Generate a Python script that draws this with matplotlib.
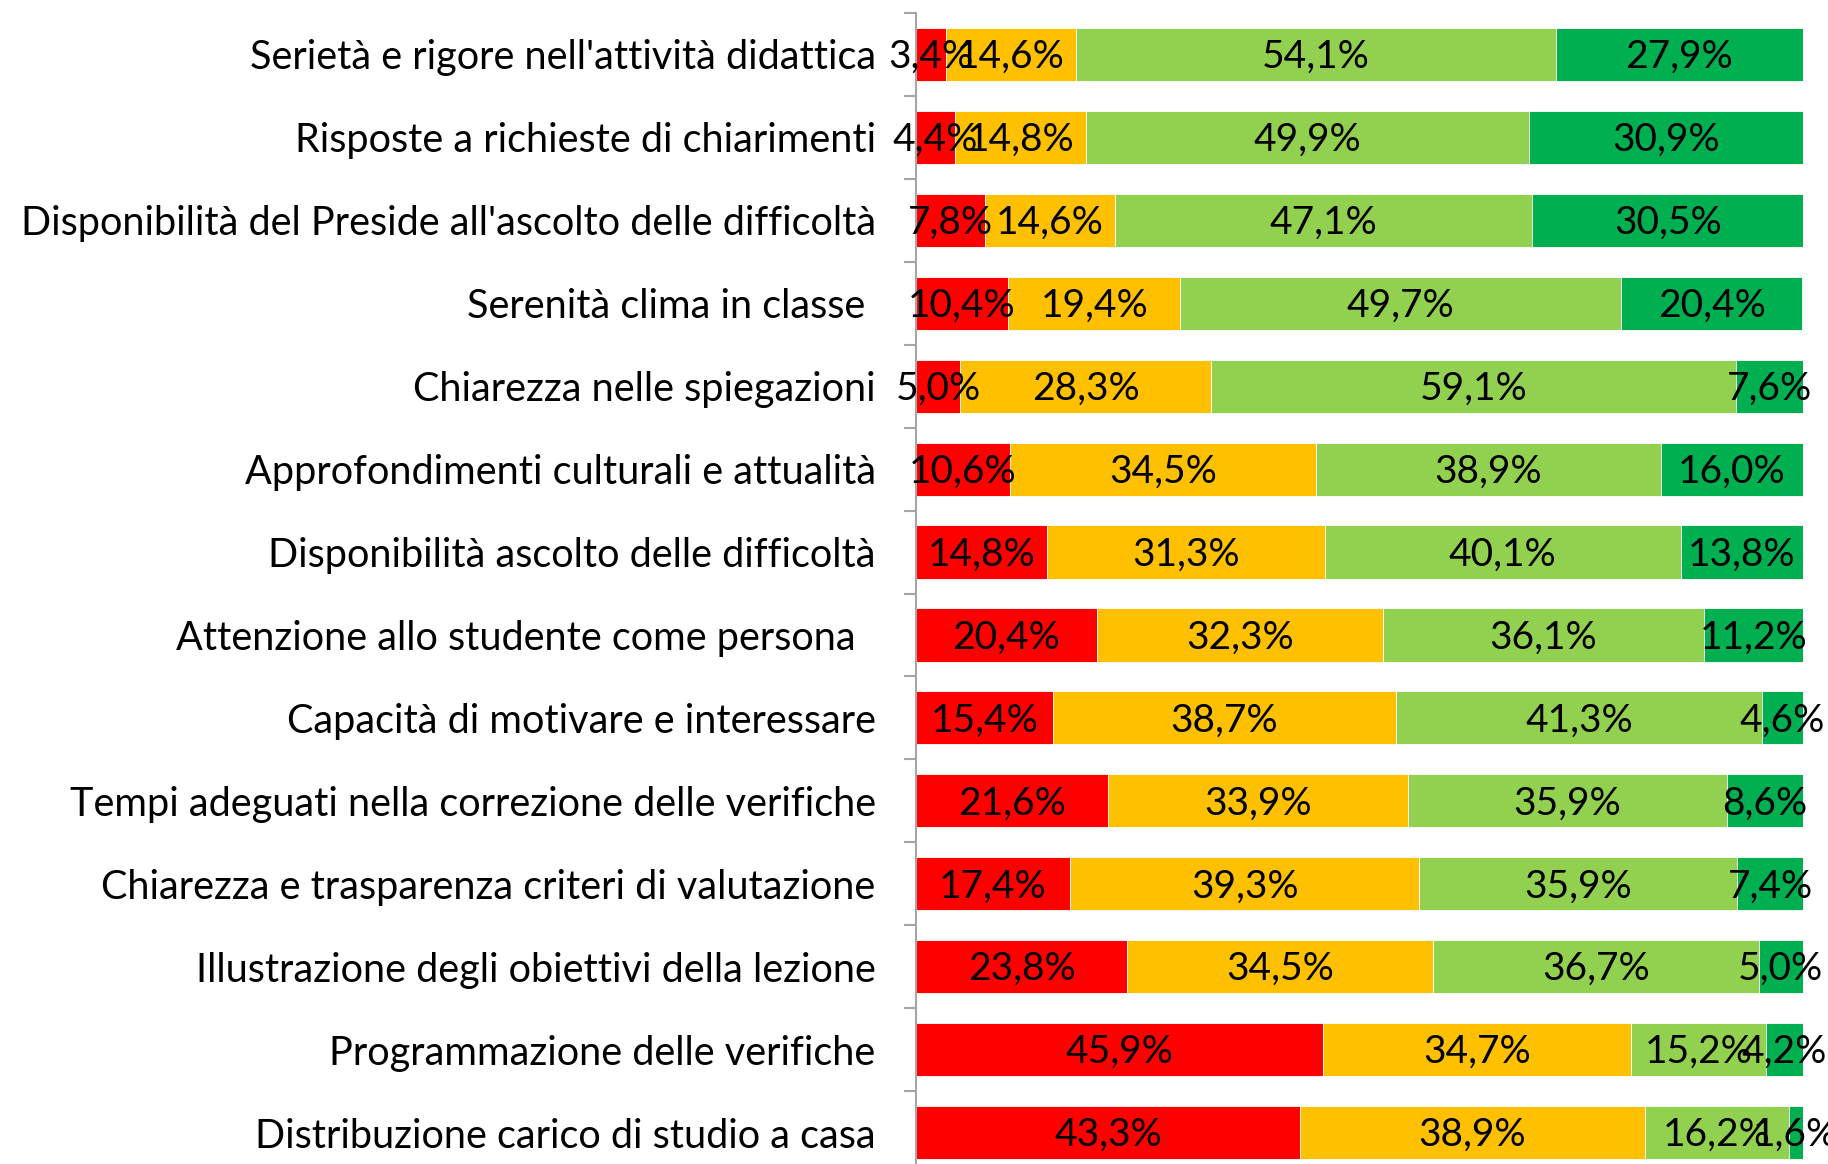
import matplotlib
matplotlib.use("Agg")
import matplotlib.pyplot as plt
import numpy as np

categories = [
    "Serietà e rigore nell'attività didattica",
    "Risposte a richieste di chiarimenti",
    "Disponibilità del Preside all'ascolto delle difficoltà",
    "Serenità clima in classe ",
    "Chiarezza nelle spiegazioni",
    "Approfondimenti culturali e attualità",
    "Disponibilità ascolto delle difficoltà",
    "Attenzione allo studente come persona  ",
    "Capacità di motivare e interessare",
    "Tempi adeguati nella correzione delle verifiche",
    "Chiarezza e trasparenza criteri di valutazione",
    "Illustrazione degli obiettivi della lezione",
    "Programmazione delle verifiche",
    "Distribuzione carico di studio a casa",
]
per_niente = [3.4, 4.4, 7.8, 10.4, 5.0, 10.6, 14.8, 20.4, 15.4, 21.6, 17.4, 23.8, 45.9, 43.3]
poco = [14.6, 14.8, 14.6, 19.4, 28.3, 34.5, 31.3, 32.3, 38.7, 33.9, 39.3, 34.5, 34.7, 38.9]
abbastanza = [54.1, 49.9, 47.1, 49.7, 59.1, 38.9, 40.1, 36.1, 41.3, 35.9, 35.9, 36.7, 15.2, 16.2]
molto = [27.9, 30.9, 30.5, 20.4, 7.6, 16.0, 13.8, 11.2, 4.6, 8.6, 7.4, 5.0, 4.2, 1.6]
series = [per_niente, poco, abbastanza, molto]
colors = ["#FF0000", "#FFC000", "#92D050", "#00B050"]

plt.rcParams['font.family'] = ['Lato', 'DejaVu Sans']

fig = plt.figure(figsize=(18.28, 11.64), dpi=100)
ax = fig.add_axes([916/1828, -10/1164, (1803-916)/1828, 1161/1164])

y = np.arange(len(categories))
left = np.zeros(len(categories))
fs_lab = 28.5
fs_val = 28
for vals, c in zip(series, colors):
    v = np.array(vals) / 100.0
    ax.barh(y, v, left=left, height=0.64, color=c, edgecolor='white', linewidth=0.6)
    for yi, (l, w, raw) in enumerate(zip(left, v, vals)):
        ax.text(l + w / 2, yi + 0.03, f"{raw:.1f}%".replace('.', ','), ha='center', va='center',
                fontsize=fs_val, color='black')
    left = left + v

ax.set_xlim(0, 1.0)
ax.set_ylim(len(categories) - 0.5, -0.5)
ax.set_yticks(y)
ax.set_yticklabels(categories, fontsize=fs_lab)
ax.tick_params(axis='y', which='major', length=0, pad=29)
ax.set_yticks(np.arange(len(categories) + 1) - 0.5, minor=True)
ax.tick_params(axis='y', which='minor', length=9, width=1.5, color='#A6A6A6')
ax.set_xticks([])
for s in ['top', 'right', 'bottom']:
    ax.spines[s].set_visible(False)
ax.spines['left'].set_color('#A6A6A6')
ax.spines['left'].set_linewidth(1.5)

fig.savefig("out.png", dpi=100)
